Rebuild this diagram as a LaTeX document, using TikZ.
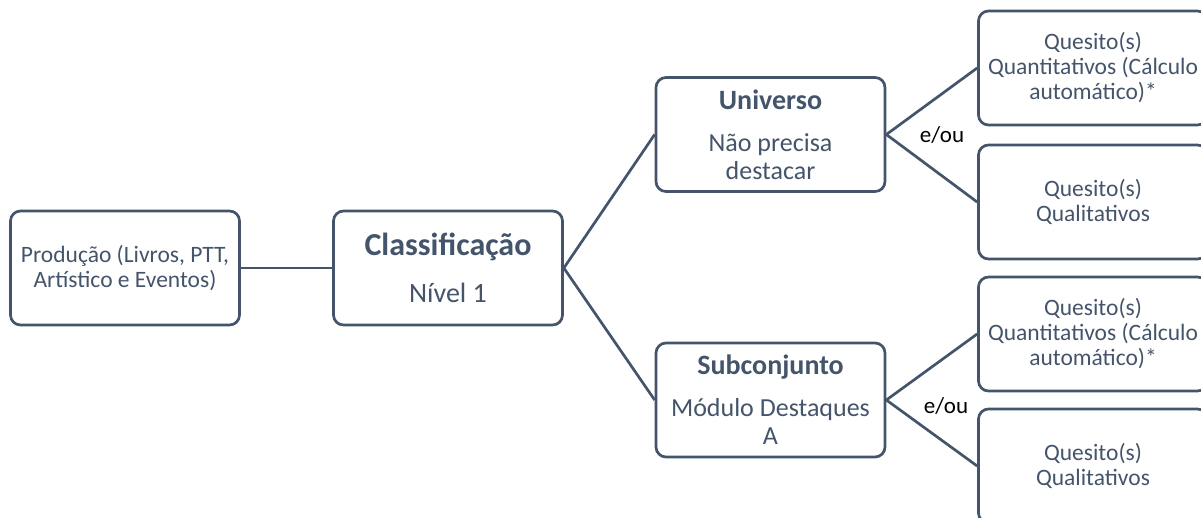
\documentclass[tikz,border=0pt]{standalone}
\usepackage{fontspec}
\setmainfont{Carlito}
\definecolor{slate}{HTML}{44546A}

\begin{document}
\begin{tikzpicture}[x = 1pt, y = -1pt,
            box/.style = {draw = slate, line width = 2.7pt, rounded corners = 10pt, text = slate, align = center, minimum width = 229pt, minimum height = 114pt, inner sep = 0pt},
            textsm/.style = {font = \fontsize{23.5}{25}\selectfont},
            textmd/.style = {font = \fontsize{26}{28}\selectfont},
            textlg/.style = {font = \fontsize{28}{30}\selectfont},
            link/.style = {draw = slate, line width = 2.7pt},
            choice/.style = {font = \fontsize{23}{25}\selectfont, text = black, inner sep = 0pt}]
            \useasboundingbox (0, 0) rectangle (1201, 517);
            \clip (0, 0) rectangle (1201, 517);
            % left part
            \node [box, textsm] (prod) at (125, 268) {Produção (Livros, PTT,\\Artístico e Eventos)};
            \node [box, textlg] (class) at (448, 268) {{\bfseries\fontsize{32}{34}\selectfont Classificação}\\[17pt]Nível 1};
            \node [box, textmd] (univ) at (770.5, 134.5) {{\bfseries\fontsize{28}{30}\selectfont Universo}\\[14pt]Não precisa\\destacar};
            \node [box, textmd] (sub) at (770.5, 400) {{\bfseries\fontsize{28}{30}\selectfont Subconjunto}\\[14pt]Módulo Destaques\\A};
            % right part
            \node [box, textsm] (quantA) at (1093, 68) {Quesito(s)\\Quantitativos (Cálculo\\automático)*};
            \node [box, textsm] (qualA) at (1093, 202) {Quesito(s)\\Qualitativos};
            \node [box, textsm] (quantB) at (1093, 334) {Quesito(s)\\Quantitativos (Cálculo\\automático)*};
            \node [box, textsm] (qualB) at (1093, 466) {Quesito(s)\\Qualitativos};
            \node [choice] (orA) at (942, 135) {e/ou};
            \node [choice] (orB) at (946, 406) {e/ou};
            \draw [link] (prod.east) -- (class.west);
            \draw [link] (class.east) -- (univ.west);
            \draw [link] (class.east) -- (sub.west);
            \draw [link] (univ.east) -- (quantA.west);
            \draw [link] (univ.east) -- (qualA.west);
            \draw [link] (sub.east) -- (quantB.west);
            \draw [link] (sub.east) -- (qualB.west);
        \end{tikzpicture}
\end{document}
